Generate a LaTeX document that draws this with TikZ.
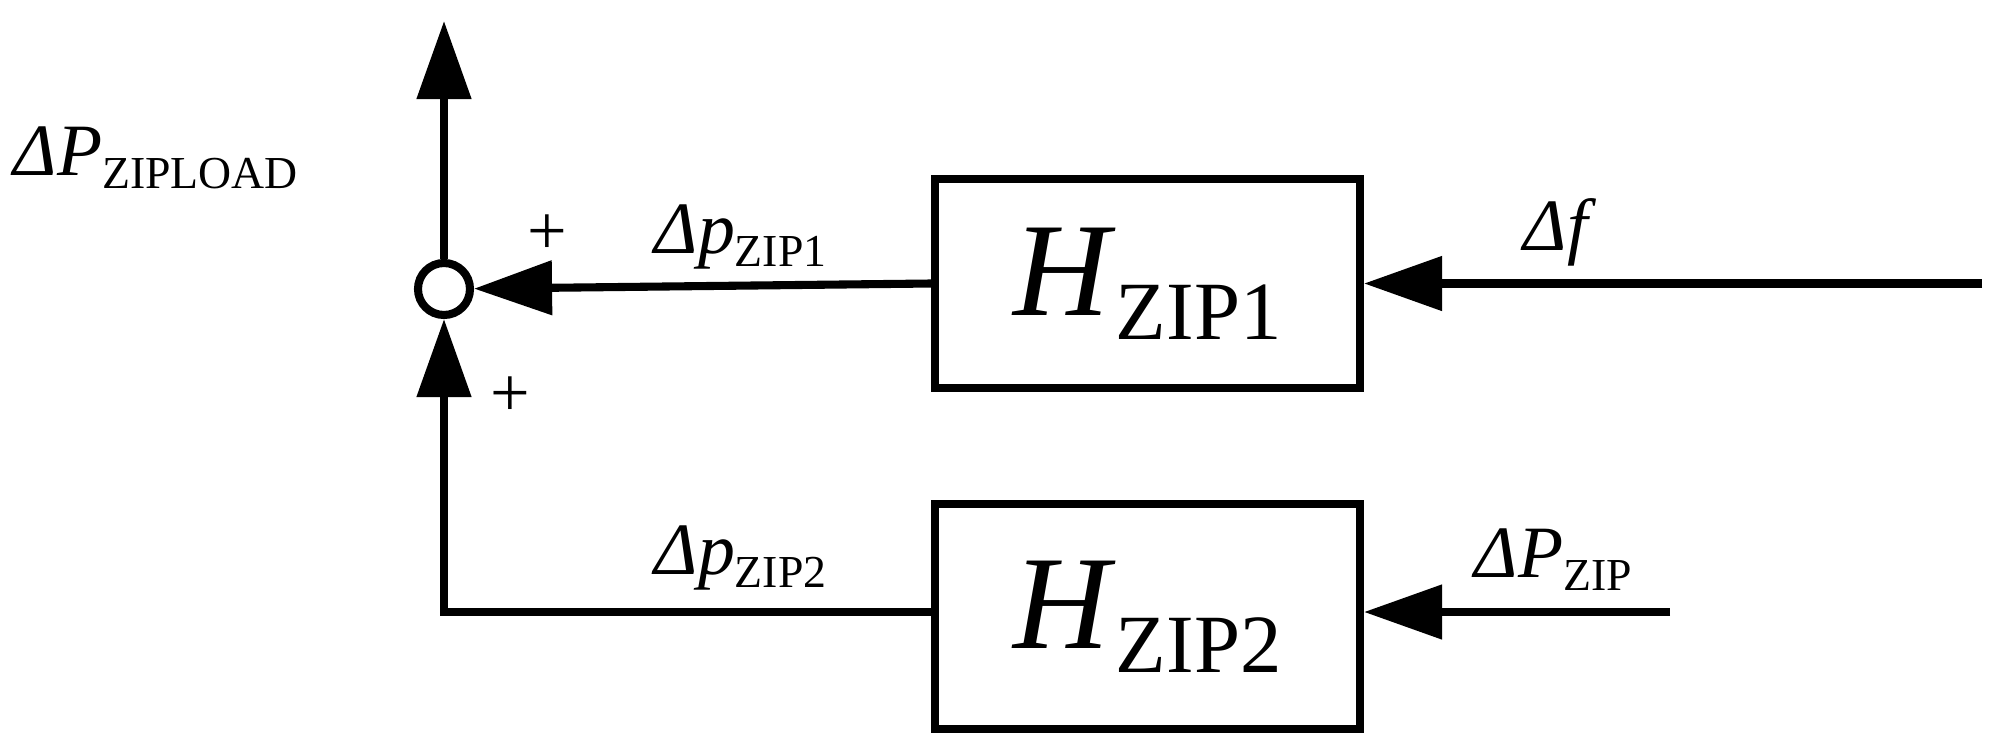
\documentclass[tikz,border=0pt]{standalone}
\usepackage{fontspec}
\setmainfont{Liberation Serif}
\usepackage{tikz}
\usetikzlibrary{arrows.meta}
\usetikzlibrary{calc}
\newcommand{\sig}[2]{\textit{#1}\raisebox{-0.18em}{\scalebox{0.62}{#2}}}

\begin{document}
\begin{tikzpicture}[
    wire/.style={line width=2.3pt},
    arr/.style={wire,-{Triangle[length=7.8mm,width=5.3mm]}},
    block/.style={draw,line width=2.3pt,inner sep=0pt},
    lbl/.style={font=\fontsize{21}{24}\selectfont,inner sep=0pt,anchor=base west}
]
\useasboundingbox (0,0) rectangle (19.98,7.41);

\node[circle,draw,line width=2.3pt,minimum size=0.52cm,inner sep=0pt] (sum) at (4.44,4.52) {};
\node[block,minimum width=4.25cm,minimum height=2.09cm] (H1) at (11.475,4.575)
      {\fontsize{38}{40}\selectfont\sig{H}{ZIP1}};
\node[block,minimum width=4.25cm,minimum height=2.25cm] (H2) at (11.475,1.245)
      {\fontsize{38}{40}\selectfont\sig{H}{ZIP2}};

\coordinate (out)    at (4.44,7.20);
\coordinate (corner) at (4.44,1.29);
\coordinate (in1)    at (19.82,4.575);
\coordinate (in2)    at (16.70,1.29);

\draw[arr] (sum) -- (out);
\draw[arr] (H1.west) -- (sum);
\draw[arr] (H2.west |- corner) -- (corner) -- (sum);
\draw[arr] (in1) -- (H1.east);
\draw[arr] (in2) -- (H2.east |- in2);

\node[lbl] (lout) at (0.13,5.66) {\sig{ΔP}{ZIPLOAD}};
\node[lbl] (l1)   at (6.54,4.88) {\sig{Δp}{ZIP1}};
\node[lbl] (l2)   at (6.54,1.67) {\sig{Δp}{ZIP2}};
\node[lbl] (lf)   at (15.23,4.91) {\textit{Δf}};
\node[lbl] (lp)   at (14.74,1.64) {\sig{ΔP}{ZIP}};

\node[font=\fontsize{20}{22}\selectfont] (p1) at (5.47,5.06) {+};
\node[font=\fontsize{20}{22}\selectfont] (p2) at (5.10,3.44) {+};
\end{tikzpicture}
\end{document}
